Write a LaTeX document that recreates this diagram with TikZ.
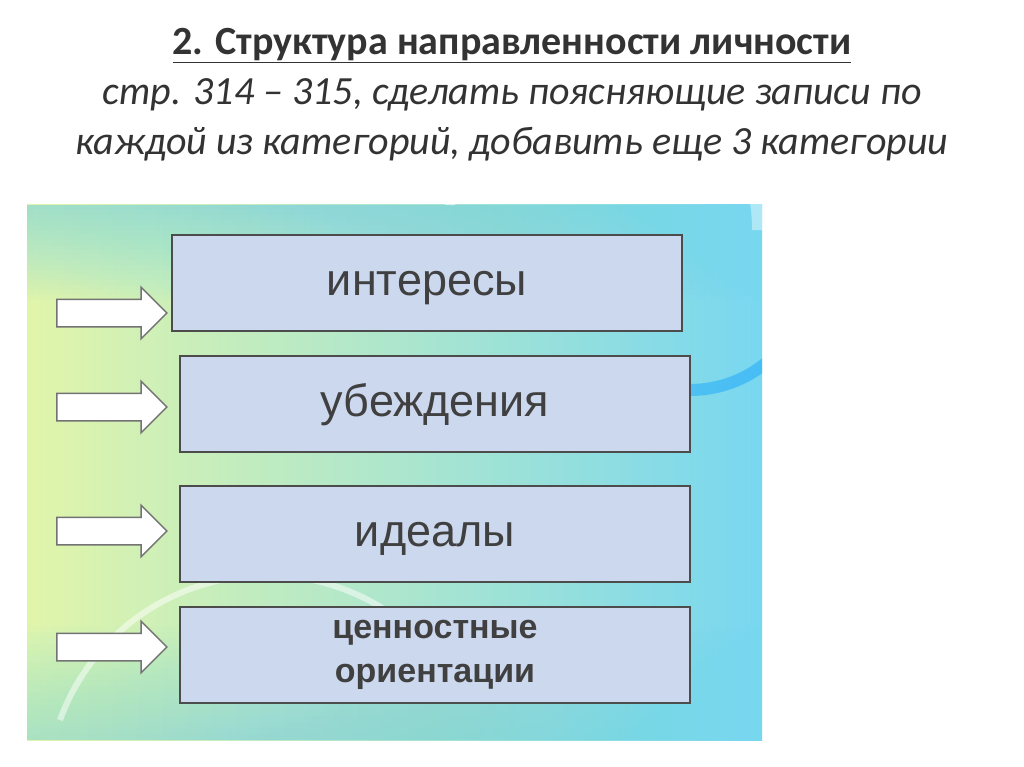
\documentclass[tikz,border=0pt]{standalone}
\usepackage{fontspec}
\setmainfont{Carlito}
\newfontfamily\boxfont{Liberation Sans}
\usetikzlibrary{shapes.arrows}
\definecolor{boxfill}{RGB}{203,216,237}
\definecolor{bgc}{RGB}{120,215,240}
\definecolor{bgy}{RGB}{225,245,170}
\begin{document}
\begin{tikzpicture}[x=1pt,y=-1pt,
  catbase/.style={draw=black!70,line width=2pt,fill=boxfill,minimum width=510pt,minimum height=96pt,text=black!75},
  cat/.style={catbase,font=\boxfont\fontsize{45}{50}\selectfont,text height=24pt,text depth=0pt},
  blk/.style={single arrow,draw=black!55,line width=1.5pt,fill=white,text height=26pt,text depth=0pt,text width=0pt,single arrow head extend=12pt,single arrow head indent=0pt,minimum height=110pt,inner sep=0pt}]
\useasboundingbox (0,0) rectangle (1024,767);
\fill[white] (0,0) rectangle (1024,767);
\node[font=\bfseries\fontsize{40}{46}\selectfont,text=black!80] (t1) at (512,46) {\underline{2. Структура направленности личности}};
\node[font=\itshape\fontsize{40}{50}\selectfont,text=black!80,align=center] (t2) at (512,120) {стр. 314 – 315, сделать поясняющие записи по\\каждой из категорий, добавить еще 3 категории};
\begin{scope}
\clip (27,205) rectangle (762,740);
\shade[left color=bgy,right color=bgc] (27,205) rectangle (762,740);
\foreach \i in {0,...,19}{
  \fill[bgc,opacity=0.04] (27,205) rectangle (762,{205+5*\i});
  \fill[bgc,opacity=0.03] (27,740) rectangle (762,{740-6*\i});
}
\draw[white,line width=10pt,opacity=0.6] (450,205) arc (180:260:300);
\draw[white,line width=6pt,opacity=0.5] (60,720) arc (200:330:220);
\draw[blue!40!cyan,line width=12pt,opacity=0.4] (690,390) arc (90:10:120);
\draw[white,line width=20pt,opacity=0.4] (762,230) arc (0:-90:200);
\end{scope}
\node[cat] (b1) at (427,283) {интересы};
\node[cat] (b2) at (435,404) {убеждения};
\node[cat] (b3) at (435,534) {идеалы};
\node[catbase,font=\boxfont\bfseries\fontsize{34}{44}\selectfont,align=center] (b4) at (435,655) {ценностные\\ориентации};
\node[blk] (a1) at (105,313) {};
\node[blk] (a2) at (105,407) {};
\node[blk] (a3) at (105,531) {};
\node[blk] (a4) at (105,647) {};
\end{tikzpicture}
\end{document}
